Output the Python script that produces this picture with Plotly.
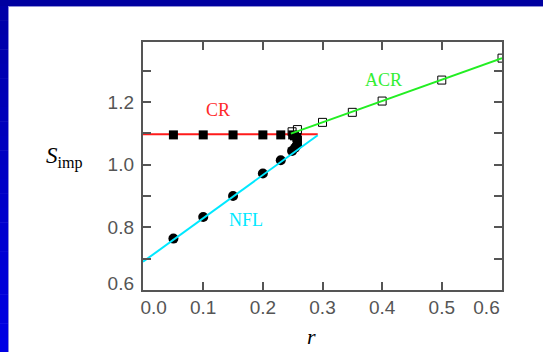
import plotly.graph_objects as go

# ---------------- data ----------------
cr_r = [0.05, 0.10, 0.15, 0.20, 0.23, 0.25, 0.253, 0.257, 0.258, 0.258]
cr_s = [1.095, 1.095, 1.095, 1.095, 1.095, 1.095, 1.092, 1.087, 1.078, 1.069]

nfl_r = [0.05, 0.10, 0.15, 0.20, 0.23, 0.249, 0.254, 0.257]
nfl_s = [0.764, 0.833, 0.900, 0.972, 1.014, 1.044, 1.054, 1.062]

acr_r = [0.249, 0.258, 0.30, 0.35, 0.40, 0.50, 0.601]
acr_s = [1.105, 1.112, 1.135, 1.167, 1.203, 1.270, 1.340]

cr_fit_r = [-0.001, 0.292]
cr_fit_s = [1.097, 1.097]
nfl_fit_r = [-0.001, 0.292]
nfl_fit_s = [0.690, 1.094]
acr_fit_r = [0.247, 0.601]
acr_fit_s = [1.099, 1.340]

x_tick_vals = [0.1, 0.2, 0.3, 0.4, 0.5]
x_label_pos = [0.017, 0.1, 0.2, 0.3, 0.4, 0.5, 0.575]
x_label_text = ["0.0", "0.1", "0.2", "0.3", "0.4", "0.5", "0.6"]
y_tick_vals = [0.7, 0.8, 0.9, 1.0, 1.1, 1.2, 1.3]
y_label_pos = [0.621, 0.8, 1.0, 1.2]
y_label_text = ["0.6", "0.8", "1.0", "1.2"]

x_range = [-0.001, 0.601]
y_range = [0.6, 1.3915]

# ---------------- layout geometry (pixels) ----------------
W, H = 543, 352
ML, MR, MT, MB = 143, 41, 42, 62
PW, PH = W - ML - MR, H - MT - MB


def px(x):
    return (x - ML) / PW


def py(y):
    return (H - MB - y) / PH


AX = "#555555"
TICKFONT = dict(family="Liberation Sans, Arial, sans-serif", size=19, color="#555555")
SERIF = "Liberation Serif, Times New Roman, serif"

fig = go.Figure()

fig.add_trace(go.Scatter(x=cr_fit_r, y=cr_fit_s, mode="lines",
                         line=dict(color="#ff1a1a", width=2), showlegend=False))
fig.add_trace(go.Scatter(x=cr_r, y=cr_s, mode="markers",
                         marker=dict(symbol="square", size=9, color="black"),
                         showlegend=False))
fig.add_trace(go.Scatter(x=nfl_r, y=nfl_s, mode="markers",
                         marker=dict(symbol="circle", size=10, color="black"),
                         showlegend=False))
fig.add_trace(go.Scatter(x=nfl_fit_r, y=nfl_fit_s, mode="lines",
                         line=dict(color="#00e8ff", width=2), showlegend=False))
fig.add_trace(go.Scatter(x=acr_r, y=acr_s, mode="markers",
                         marker=dict(symbol="square-open", size=8, color="black",
                                     line=dict(width=1, color="black")),
                         showlegend=False))
fig.add_trace(go.Scatter(x=acr_fit_r, y=acr_fit_s, mode="lines",
                         line=dict(color="#22ee22", width=2), showlegend=False))
# invisible trace for the label-only overlay axes
fig.add_trace(go.Scatter(x=[x_range[0]], y=[y_range[0]], xaxis="x2", yaxis="y2",
                         mode="markers", marker=dict(opacity=0), showlegend=False,
                         hoverinfo="skip"))

fig.update_layout(
    width=W, height=H,
    margin=dict(l=ML, r=MR, t=MT, b=MB),
    paper_bgcolor="white", plot_bgcolor="white",
    xaxis=dict(range=x_range, tickvals=x_tick_vals, showticklabels=False,
               ticks="inside", ticklen=8, tickwidth=1.5, tickcolor=AX,
               showline=True, linecolor=AX, linewidth=1.5, mirror="ticks",
               showgrid=False, zeroline=False),
    yaxis=dict(range=y_range, tickvals=y_tick_vals, showticklabels=False,
               ticks="inside", ticklen=8, tickwidth=1.5, tickcolor=AX,
               showline=True, linecolor=AX, linewidth=1.5, mirror="ticks",
               showgrid=False, zeroline=False),
    xaxis2=dict(range=x_range, overlaying="x", side="bottom", anchor="y2",
                tickvals=x_label_pos, ticktext=x_label_text, ticks="",
                showline=False, showgrid=False, zeroline=False,
                tickfont=TICKFONT, ticklabelstandoff=4),
    yaxis2=dict(range=y_range, overlaying="y", side="left", anchor="x2",
                tickvals=y_label_pos, ticktext=y_label_text, ticks="",
                showline=False, showgrid=False, zeroline=False,
                tickfont=TICKFONT, ticklabelstandoff=8),
)

# series labels
fig.add_annotation(x=0.124, y=1.174, text="CR", showarrow=False,
                   xanchor="center", yanchor="middle",
                   font=dict(family=SERIF, size=18, color="#ff2a2a"))
fig.add_annotation(x=0.403, y=1.271, text="ACR", showarrow=False,
                   xanchor="center", yanchor="middle",
                   font=dict(family=SERIF, size=18, color="#33ee33"))
fig.add_annotation(x=0.1725, y=0.822, text="NFL", showarrow=False,
                   xanchor="center", yanchor="middle",
                   font=dict(family=SERIF, size=18, color="#00e8ff"))

# axis titles
fig.add_annotation(xref="paper", yref="paper", x=px(311), y=py(336),
                   xanchor="center", yanchor="middle",
                   text="<i>r</i>", showarrow=False,
                   font=dict(family=SERIF, size=22, color="black"))
fig.add_annotation(xref="paper", yref="paper", x=px(64), y=py(157),
                   xanchor="center", yanchor="middle",
                   text="<i>S</i><sub>imp</sub>", showarrow=False,
                   font=dict(family=SERIF, size=23, color="black"))

# slide frame: dark top band and a left strip shading from dark to brighter blue
shapes = []
shapes.append(dict(type="rect", xref="paper", yref="paper", layer="above",
                   x0=px(0), x1=px(W), y0=py(6), y1=py(0),
                   fillcolor="#0000a0", line=dict(width=0)))
shapes.append(dict(type="line", xref="paper", yref="paper", layer="above",
                   x0=px(8), x1=px(W), y0=py(6.5), y1=py(6.5),
                   line=dict(color="#9090d8", width=1)))
n = 24
for i in range(n):
    y0 = 6 + (H - 6) * i / n
    y1 = 6 + (H - 6) * (i + 1) / n + 0.5
    t = i / (n - 1)
    b = int(168 + (228 - 168) * t)
    shapes.append(dict(type="rect", xref="paper", yref="paper", layer="above",
                       x0=px(0), x1=px(8), y0=py(y1), y1=py(y0),
                       fillcolor=f"rgb(0,0,{b})", line=dict(width=0)))
shapes.append(dict(type="rect", xref="paper", yref="paper", layer="above",
                   x0=px(0), x1=px(8), y0=py(6), y1=py(0),
                   fillcolor="#0000a0", line=dict(width=0)))
shapes.append(dict(type="line", xref="paper", yref="paper", layer="above",
                   x0=px(8.5), x1=px(8.5), y0=py(H), y1=py(6),
                   line=dict(color="#8c8ce0", width=1)))
fig.update_layout(shapes=shapes)

fig.write_html("out.html")
